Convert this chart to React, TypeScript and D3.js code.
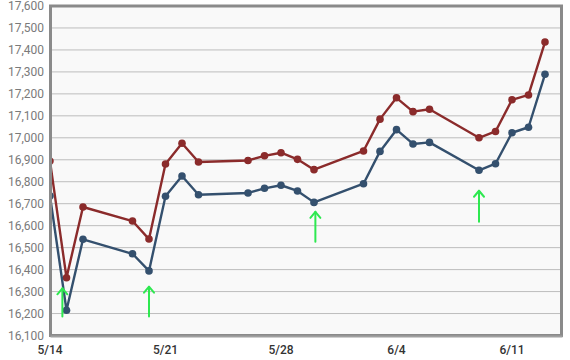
import React, { useEffect, useRef } from "react";
import * as d3 from "d3";

const dates = [
  "2014-05-14", "2014-05-15", "2014-05-16", "2014-05-19", "2014-05-20",
  "2014-05-21", "2014-05-22", "2014-05-23", "2014-05-26", "2014-05-27",
  "2014-05-28", "2014-05-29", "2014-05-30", "2014-06-02", "2014-06-03",
  "2014-06-04", "2014-06-05", "2014-06-06", "2014-06-09", "2014-06-10",
  "2014-06-11", "2014-06-12", "2014-06-13",
];

const redValues = [
  16894, 16363, 16685, 16621, 16539, 16881, 16975, 16890, 16897, 16918,
  16932, 16902, 16855, 16940, 17085, 17182, 17119, 17130, 17000, 17029,
  17173, 17195, 17436,
];

const blueValues = [
  16735, 16215, 16538, 16472, 16394, 16734, 16826, 16741, 16749, 16770,
  16784, 16758, 16706, 16791, 16938, 17037, 16972, 16979, 16852, 16882,
  17023, 17048, 17289,
];

// annotation arrows: where they stand, tip and tail values
const arrowDates = ["2014-05-14 18:00", "2014-05-20 00:00", "2014-05-30 02:00", "2014-06-09 00:00"];
const arrowTips = [16315, 16322, 16663, 16759];
const arrowTails = [16186, 16186, 16527, 16618];

const xTicks = ["2014-05-14", "2014-05-21", "2014-05-28", "2014-06-04", "2014-06-11"];
const yTicks = [16100, 16200, 16300, 16400, 16500, 16600, 16700, 16800, 16900, 17000, 17100, 17200, 17300, 17400, 17500, 17600];

const App = () => {
  const svgRef = useRef<SVGSVGElement>(null);

  useEffect(() => {
    document.body.style.margin = "0";
    const svg = d3.select(svgRef.current);
    svg.selectAll("*").remove();

    const width = 570;
    const height = 360;
    const plot = { left: 50.5, top: 6, right: 561.5, bottom: 335.5 };

    const parseDay = d3.timeParse("%Y-%m-%d");
    const parseTime = d3.timeParse("%Y-%m-%d %H:%M");

    const x = d3.scaleTime()
      .domain([parseDay("2014-05-14")!, parseDay("2014-06-14")!])
      .range([50, 561.5]);

    const y = d3.scaleLinear()
      .domain([16100, 17600])
      .range([plot.bottom, plot.top]);

    svg.attr("viewBox", `0 0 ${width} ${height}`);

    const defs = svg.append("defs");
    defs.append("clipPath").attr("id", "plotclip")
      .append("rect")
      .attr("x", plot.left + 1.5)
      .attr("y", plot.top)
      .attr("width", plot.right - plot.left - 1.5)
      .attr("height", plot.bottom - plot.top);

    svg.append("rect")
      .attr("x", plot.left).attr("y", plot.top)
      .attr("width", plot.right - plot.left)
      .attr("height", plot.bottom - plot.top)
      .attr("fill", "#f9f9f9");

    // gridlines
    svg.append("g")
      .selectAll("line")
      .data(yTicks)
      .enter()
      .append("line")
      .attr("x1", plot.left).attr("x2", plot.right)
      .attr("y1", d => y(d)).attr("y2", d => y(d))
      .attr("stroke", "#bdbdbd")
      .attr("stroke-width", 1);

    // y labels
    svg.append("g")
      .selectAll("text")
      .data(yTicks)
      .enter()
      .append("text")
      .attr("x", 44)
      .attr("y", d => y(d))
      .attr("dy", "0.35em")
      .attr("text-anchor", "end")
      .attr("font-family", "Roboto, sans-serif")
      .attr("font-size", "12px")
      .attr("fill", "#7a7a7a")
      .text(d => d3.format(",")(d));

    // x labels
    svg.append("g")
      .selectAll("text")
      .data(xTicks)
      .enter()
      .append("text")
      .attr("x", d => x(parseDay(d)!))
      .attr("y", 354)
      .attr("text-anchor", "middle")
      .attr("font-family", "Roboto, sans-serif")
      .attr("font-size", "12px")
      .attr("font-weight", 500)
      .attr("fill", "#333")
      .text(d => d3.timeFormat("%-m/%-d")(parseDay(d)!));

    // frame
    svg.append("rect")
      .attr("x", plot.left).attr("y", plot.top)
      .attr("width", plot.right - plot.left)
      .attr("height", plot.bottom - plot.top)
      .attr("fill", "none")
      .attr("stroke", "#8a8a8a")
      .attr("stroke-width", 3);
    svg.append("line")
      .attr("x1", plot.left - 0.5).attr("x2", plot.left - 0.5)
      .attr("y1", plot.top).attr("y2", plot.bottom + 1)
      .attr("stroke", "#8a8a8a").attr("stroke-width", 2);
    svg.append("line")
      .attr("x1", plot.left).attr("x2", plot.right + 1)
      .attr("y1", plot.bottom + 1).attr("y2", plot.bottom + 1)
      .attr("stroke", "#a0a0a0").attr("stroke-width", 2);

    const chart = svg.append("g").attr("clip-path", "url(#plotclip)");

    const drawSeries = (values: number[], color: string) => {
      const data = dates.map((d, i) => ({ date: parseDay(d)!, value: values[i] }));
      const line = d3.line<{ date: Date; value: number }>()
        .x(d => x(d.date))
        .y(d => y(d.value));

      chart.append("path")
        .datum(data)
        .attr("fill", "none")
        .attr("stroke", color)
        .attr("stroke-width", 2.4)
        .attr("stroke-linejoin", "round")
        .attr("d", line);

      chart.append("g")
        .selectAll("circle")
        .data(data)
        .enter()
        .append("circle")
        .attr("cx", d => x(d.date))
        .attr("cy", d => y(d.value))
        .attr("r", 3.8)
        .attr("fill", color);
    };

    drawSeries(redValues, "#8b2b2b");
    drawSeries(blueValues, "#34506e");

    // green arrows
    const arrows = chart.append("g")
      .attr("stroke", "#2ee850")
      .attr("stroke-width", 2)
      .attr("fill", "none")
      .attr("stroke-linecap", "round")
      .attr("stroke-linejoin", "round");

    arrowDates.forEach((d, i) => {
      const ax = x(parseTime(d)!);
      const tip = y(arrowTips[i]);
      const tail = y(arrowTails[i]);
      arrows.append("line")
        .attr("x1", ax).attr("x2", ax)
        .attr("y1", tail).attr("y2", tip);
      arrows.append("path")
        .attr("d", `M${ax - 5},${tip + 6}L${ax},${tip}L${ax + 5},${tip + 6}`);
    });
  }, []);

  return <svg ref={svgRef} width={570} height={360} style={{ display: "block" }} />;
};

export default App;
